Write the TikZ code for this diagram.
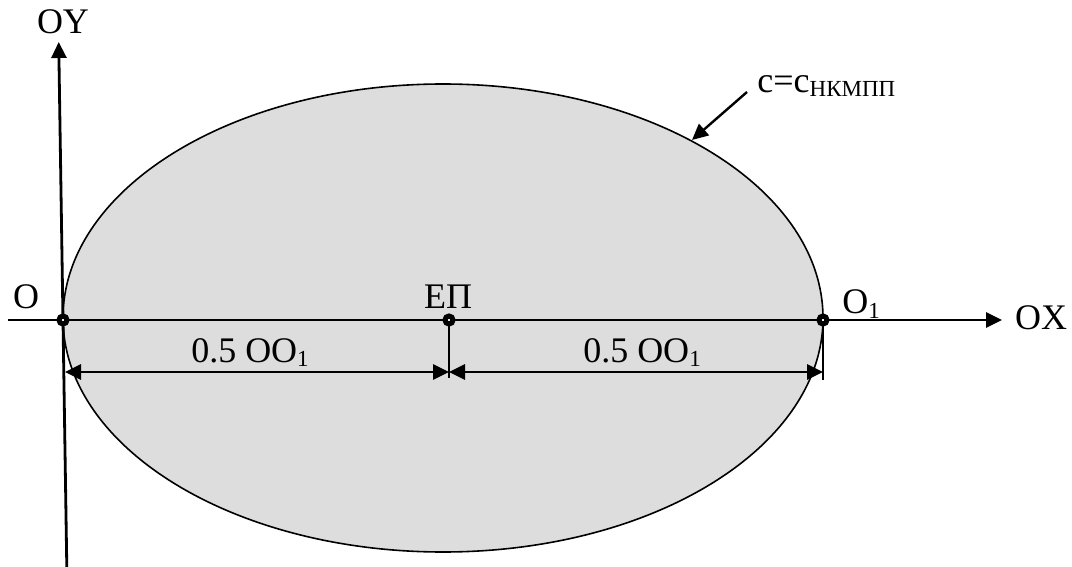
\documentclass[tikz,border=0pt]{standalone}
\usepackage{fontspec}
\setmainfont{Liberation Serif}
\usepackage{tikz}
\usetikzlibrary{arrows.meta, positioning}
\definecolor{ellgray}{RGB}{221, 221, 221}
\newcommand{\lowsub}[1]{\raisebox{-2pt}{\fontsize{11.5pt}{12pt}\selectfont #1}}

\begin{document}
\begin{tikzpicture}[
  x=0.5pt, y=-0.5pt,
  font=\fontsize{18pt}{21pt}\selectfont,
  axis/.style={-{Triangle[length=8pt, width=7.5pt]}, line width=1.4pt},
  dimline/.style={{Triangle[length=8pt, width=7.5pt]}-{Triangle[length=8pt, width=7.5pt]},
                  line width=1.4pt},
  tick/.style={line width=0.6pt},
  dot/.style={circle, draw, fill=white, line width=2.5pt, minimum size=4pt,
              inner sep=0pt},
  lbl/.style={inner sep=0pt},
]
\useasboundingbox (0,0) rectangle (1072,567);

% Ellipse
\draw[fill=ellgray, line width=0.8pt] (443,318) ellipse [x radius=380, y radius=234];

% Axes
\coordinate (xstart) at (8,320);
\coordinate (xend) at (1002,320);
\coordinate (ybot) at (66.8,567);
\coordinate (ytop) at (58.7,42);
\draw[axis] (xstart) -- (xend);
\draw[axis] (ybot) -- (ytop);

% Points on OX
\coordinate (Oc) at (63,320);
\coordinate (EPc) at (449,320);
\coordinate (O1c) at (823,320);

% Dimension
\coordinate (dimL) at (65,372);
\coordinate (dimM) at (449,372);
\coordinate (dimR) at (823,372);
\coordinate (tickM) at (449,378);
\coordinate (tickR) at (823,380);
\draw[tick] (EPc) -- (tickM);
\draw[tick] (O1c) -- (tickR);
\draw[dimline] (dimL) -- (dimM);
\draw[dimline] (dimM) -- (dimR);

\node[dot] (O) at (Oc) {};
\node[dot] (EP) at (EPc) {};
\node[dot] (O1) at (O1c) {};

% Labels
\node[lbl] (oylbl) at (63,22) {OY};
\node[lbl] (oxlbl) at (1041,318) {OX};
\node[lbl] (olbl) at (26,297) {O};
\node[lbl] (eplbl) at (448,297) {ЕП};
\node[lbl, anchor=base west] (o1lbl) at (842,314) {O\lowsub{1}};
\node[lbl, anchor=base] (halfL) at (250,362) {0.5 OO\lowsub{1}};
\node[lbl, anchor=base] (halfR) at (642,362) {0.5 OO\lowsub{1}};

% Callout
\node[lbl, anchor=base west] (clbl) at (757,93) {c=c\lowsub{НКМПП}};
\coordinate (cfrom) at (747,92);
\coordinate (cto) at (692,140);
\draw[axis, line width=1.2pt] (cfrom) -- (cto);

\end{tikzpicture}
\end{document}
